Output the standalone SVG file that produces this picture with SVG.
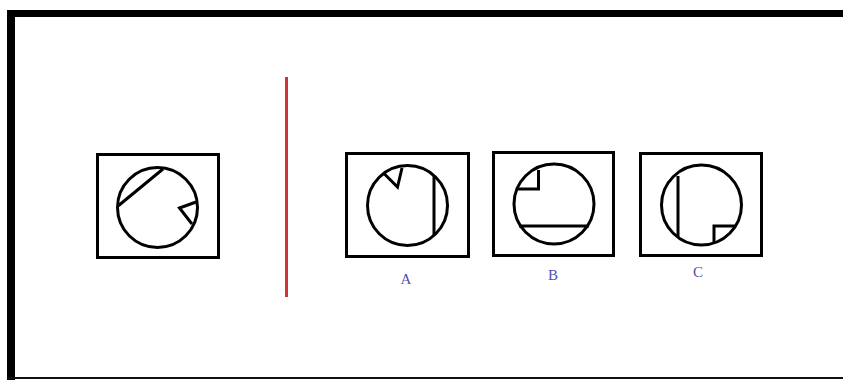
<svg xmlns="http://www.w3.org/2000/svg" width="843" height="380" viewBox="0 0 843 380">
<style>
.box{fill:none;stroke:#000;stroke-width:3}
.ln{fill:none;stroke:#000;stroke-width:3;stroke-linejoin:miter}
.lbl{font-family:"Liberation Serif",serif;font-size:15px;fill:#5050b0;text-anchor:middle}
</style>
<rect width="843" height="380" fill="#fff"/>
<g id="frame">
<rect x="7" y="10" width="836" height="7" fill="#000"/>
<rect x="7" y="10" width="8" height="370" fill="#000"/>
<rect x="7" y="377" width="836" height="2" fill="#111"/>
</g>
<g id="divider"><line x1="286.5" y1="77" x2="286.5" y2="297" stroke="#d03535" stroke-width="3"/></g>
<g id="question">
<rect class="box" x="97.5" y="154.5" width="121" height="103"/>
<circle class="ln" cx="157.5" cy="207.5" r="40"/>
<line class="ln" x1="118" y1="206" x2="163" y2="169"/>
<polyline class="ln" points="196,202 179.5,208 192,224"/>
</g>
<g id="optionA">
<rect class="box" x="346.5" y="153.5" width="122" height="103"/>
<circle class="ln" cx="407.5" cy="205.5" r="40"/>
<line class="ln" x1="434" y1="176" x2="434" y2="235"/>
<polyline class="ln" points="384,173.5 397.5,187 402,168"/>
<text class="lbl" x="406" y="284">A</text>
</g>
<g id="optionB">
<rect class="box" x="493.5" y="152.5" width="120" height="103"/>
<circle class="ln" cx="554" cy="204" r="40"/>
<line class="ln" x1="519" y1="226" x2="589" y2="226"/>
<polyline class="ln" points="538.5,170 538.5,189 517,189"/>
<text class="lbl" x="553" y="280">B</text>
</g>
<g id="optionC">
<rect class="box" x="640.5" y="153.5" width="121" height="102"/>
<circle class="ln" cx="701.5" cy="205" r="40"/>
<line class="ln" x1="678" y1="176" x2="678" y2="237"/>
<polyline class="ln" points="714,242 714,226 735,226"/>
<text class="lbl" x="698" y="277">C</text>
</g>
</svg>
